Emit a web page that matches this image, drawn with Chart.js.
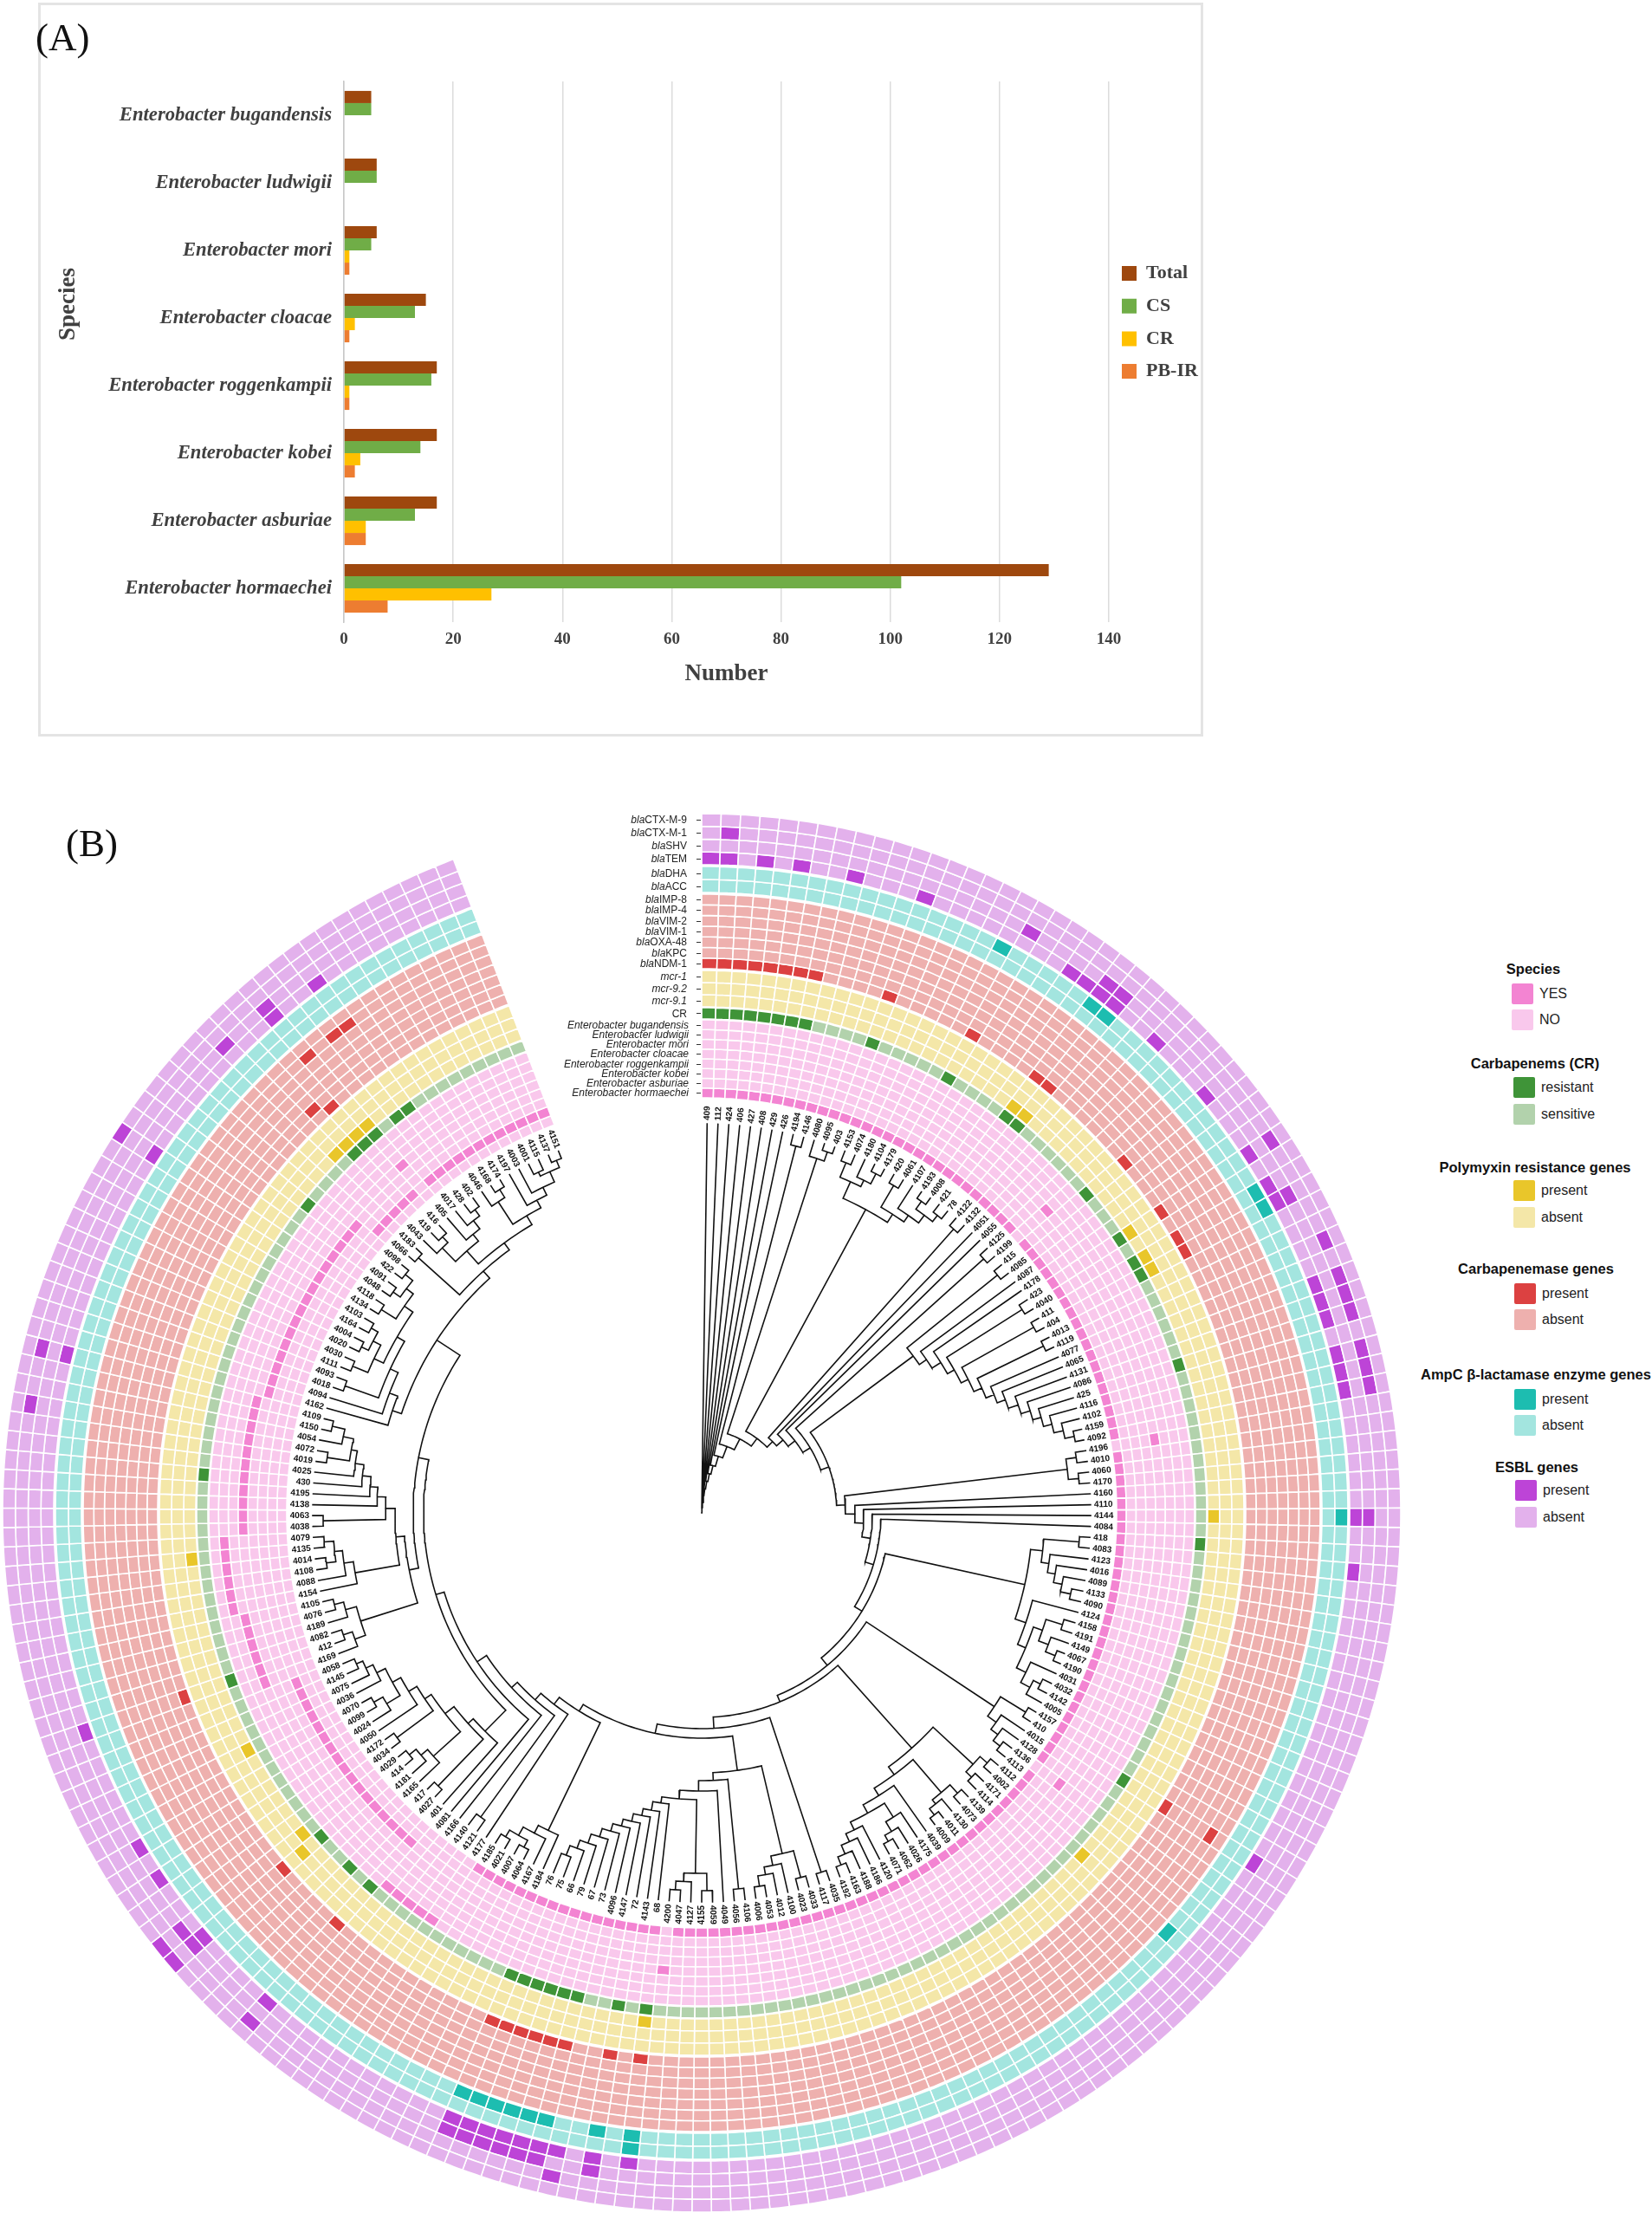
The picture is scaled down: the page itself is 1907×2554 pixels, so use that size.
<!DOCTYPE html>
<html>
<head>
<meta charset="utf-8">
<title>Enterobacter species and resistance genes</title>
<script src="https://cdn.jsdelivr.net/npm/chart.js@4"></script>
<style>
  html, body { margin: 0; padding: 0; background: #fff; }
  #page { position: relative; width: 1907px; height: 2554px; overflow: hidden; background: #fff; font-family: "Liberation Sans", Arial, sans-serif; }
  #page canvas { position: absolute; }
  .frame { position: absolute; left: 44px; top: 3px; width: 1345px; height: 847px; box-sizing: border-box; border: 3px solid #e4e4e4; }
  .panel { position: absolute; font: 45px "Liberation Serif", serif; color: #111; line-height: 50px; }
  .row { position: absolute; right: 1111px; font-size: 12px; line-height: 14px; color: #222; white-space: nowrap; }
  .tick { position: absolute; left: 804px; width: 5px; height: 1px; background: #333; }
  .lg-title { position: absolute; font-size: 16.5px; font-weight: bold; color: #111; white-space: nowrap; transform: translate(-50%, -50%); }
  .lg-box { position: absolute; width: 25px; height: 24px; border-radius: 2px; }
  .lg-text { position: absolute; font-size: 16px; line-height: 24px; color: #222; }
</style>
</head>
<body>
<div id="page">
  <div class="frame"></div>
  <canvas id="barChart" width="1345" height="847" style="left:44px;top:3px"></canvas>
  <canvas id="ringChart" width="1620" height="1620" style="left:0;top:936px"></canvas>
  <canvas id="treeChart" width="1620" height="1620" style="left:0;top:936px"></canvas>
  <div class="panel" style="left:41px;top:18px">(A)</div>
  <div class="panel" style="left:76px;top:948px">(B)</div>
</div>
<script>
// ---- panel A
const speciesNames = ['Enterobacter bugandensis', 'Enterobacter ludwigii', 'Enterobacter mori', 'Enterobacter cloacae',
  'Enterobacter roggenkampii', 'Enterobacter kobei', 'Enterobacter asburiae', 'Enterobacter hormaechei'];
const totalCounts = [5, 6, 6, 15, 17, 17, 17, 129];
const csCounts = [5, 6, 5, 13, 16, 14, 13, 102];
const crCounts = [0, 0, 1, 2, 1, 3, 4, 27];
const pbirCounts = [0, 0, 1, 1, 1, 2, 4, 8];

// ---- panel B: samples in clockwise order from the top
const sampleLabels = ['409','112','424','406','427','408','429','426','4194','4146','4080','4095','403','4153','4074','4180','4104','4179','420','4061','4107','4193','4008','421','78','4122','4132','4051','4055','4125','4199','415','4085','4087','4178','423','4040','411','404','4013','4119','4077','4065','4131','4086','425','4116','4102','4159','4092','4196','4010','4060','4170','4160','4110','4144','4084','418','4083','4123','4016','4089','4133','4090','4124','4158','4191','4149','4067','4190','4031','4032','4142','4005','4157','410','4015','4128','4136','4113','4112','4002','4171','4114','4139','4073','4130','4011','4009','4039','4175','4026','4062','4071','4120','4186','4188','4163','4192','4035','4117','4033','4023','4100','4012','4053','4006','4106','4056','4049','4059','4155','4127','4047','4200','68','4143','72','4147','4096','73','67','79','66','75','76','4184','4167','4064','4007','4021','4185','4177','4121','4140','4166','4081','401','4027','417','4165','4181','414','4029','4034','4172','4050','4024','4099','4070','4036','4075','4145','4058','4169','412','4082','4189','4076','4105','4154','4088','4108','4014','4135','4079','4038','4063','4138','4195','430','4025','4019','4072','4054','4150','4109','4162','4094','4018','4093','4111','4030','4020','4004','4164','4103','4134','4118','4048','4091','422','4098','4066','4183','4043','419','416','405','4017','428','402','4046','4168','4174','4197','4003','4001','4115','4137','4151'];

// sample positions with a filled cell, one list per ring
const ctxM9 = [143, 144, 189];
const ctxM1 = [1, 35, 41, 43, 44, 45, 47, 48, 49, 120, 138, 174, 177];
const shv = [18, 23, 24, 38, 56, 118, 121, 122, 123, 124, 125, 126, 143, 144, 196, 199];
const tem = [0, 1, 3, 5, 8, 12, 21, 22, 23, 24, 27, 31, 35, 37, 38, 43, 44, 45, 47, 48, 49, 56, 59, 76, 116, 118, 120, 121, 122, 123, 124, 125, 126, 138, 143, 147, 149, 156, 177, 189, 199, 202];
const dha = [17, 23, 24, 37, 38, 56, 116];
const acc = [82, 116, 118, 121, 122, 123, 124, 125, 126];
const imp8 = [];
const imp4 = [76, 199, 201, 202];
const vim2 = [];
const vim1 = [];
const oxa48 = [];
const kpc = [197];
const ndm1 = [0, 1, 2, 3, 4, 5, 6, 7, 12, 18, 23, 24, 31, 35, 37, 38, 76, 116, 118, 121, 122, 123, 124, 125, 126, 138, 143, 156, 198];
const mcr1 = [];
const mcr92 = [143];
const mcr91 = [23, 24, 35, 37, 38, 56, 82, 116, 144, 151, 165, 196, 197, 198, 199];
const crResistant = [0, 1, 2, 3, 4, 5, 6, 7, 12, 18, 23, 24, 31, 35, 37, 38, 45, 58, 76, 116, 118, 121, 122, 123, 124, 125, 126, 138, 140, 143, 156, 171, 192, 197, 198, 199, 201, 202];
const bugandensis = [133, 134, 135, 136, 137];
const ludwigii = [161, 162, 163, 164, 165, 166];
const mori = [155, 156, 157, 158, 159, 160];
const cloacae = [30, 50, 115, 167, 168, 169, 170, 171, 172, 173, 174, 175, 176, 177, 199];
const roggenkampii = [79, 178, 179, 180, 181, 182, 183, 184, 185, 186, 187, 188, 189, 190, 191, 192, 193];
const kobei = [138, 139, 140, 141, 142, 143, 144, 145, 146, 147, 148, 149, 150, 151, 152, 153, 154];
const asburiae = [194, 195, 196, 197, 198, 200, 201, 202, 203, 204, 205, 206, 207, 208, 209, 210, 211];
const others = [].concat(bugandensis, ludwigii, mori, cloacae, roggenkampii, kobei, asburiae);
const hormaechei = sampleLabels.map((_, i) => i).filter(i => !others.includes(i));

// dendrogram as newick pieces, the number after a clade is the radius of its node
const cladeChain = '((415,4085):438,(4087,(4178,((423,4040):438,((411,404):439,((4013,4119):439,(4077,(4065,(4131,(4086,(425,(4116,(4102,(4159,4092):439):428):417):407):397):386):374):364):354):344):335):326):314):304';
const cladeTop = '(((4153,4074):437,(4180,(4104,4179):440):427):419,((420,4061):438,(4107,((4193,4008):440,(421,78):438):429):418):409):398';
const cladeA = '(((418,4083):437,(4123,(4016,(4089,(4133,4090):436):424):414):405):396,(4124,(((4158,4191):436,(4149,(4067,4190):440):428):416,(4031,((4032,4142):438,4005):429):417):405):395):382';
const cladeB = '((4157,410):439,(4015,(4128,(4136,4113):437):427):417):405';
const cladeE = '(((4112,4002):438,(4171,4114):436):427,(((4139,4073):438,(4130,(4011,4009):440):431):425,(4039,((4175,(4026,(4062,4071):436):428):415,(4120,(4186,(4188,(4163,4192):437):427):416):406):396):385):375):364';
const cladeComb = '(68,(4143,(72,(4147,(4096,(73,(67,(79,(66,(75,76):425):413):403):392):382):373):365):356):348):338';
const cladeN = `(((4033,4023):436,(4100,(4012,(4053,4006):436):424):415):404,((4106,4056):436,(4049,(((4059,4155):436,(4127,(4047,4200):436):426):416,${cladeComb}):331):321):309):300`;
const cladeT = '(4184,(4167,((4064,4007):437,(4021,4185):437):428):417):407';
const cladeC = '(401,((4027,417):438,((4165,(4181,(414,4029):438):428):418,((4034,4172):437,(4050,((4024,(4099,4070):437):425,(4036,(4075,(4145,4058):435):427):418):407):396):385):376):363):355';
const cladeQ = '(((4169,(412,4082):437):426,(4189,(4076,4105):437):426):413,((4154,(4088,((4108,4014):437,(4135,4079):437):426):417):406,((4038,4063):437,(4138,(4195,(430,(4025,((4019,4072):437,(4054,(4150,4109):438):423):411):404):394):384):375):365):354):344';
const cladeL = '(4162,(4094,((4018,4093):437,(((4111,4030):437,((4020,4004):437,(4164,4103):437):428):418,((4134,4118):438,((4048,4091):438,(422,4098):439):428):418):406):396):386):376';
const cladeU = '((4066,4183):440,(((4043,(419,416):437):428,(405,(4017,(428,402):437):428):416):406,((4046,(4168,4174):440):429,(4197,(4003,((4001,4115):436,(4137,4151):440):431):418):408):398):386):376';
const cladeK = `((4035,4117):437,(${cladeN},(${cladeT},(4177,((4121,4140):434,(4166,(4081,(${cladeC},(${cladeQ},(${cladeL},${cladeU}):365):333):321):311):298):289):279):269):260):249`;
const cladeS = `(${cladeA},(${cladeB},(${cladeE},${cladeK}):236):228):217`;
const treeNewick = `(409,(112,(424,(406,(427,(408,(429,(426,((4194,4146):437,((4080,(4095,403):441):430,(${cladeTop},((4122,4132):438,(4051,(4055,((4125,4199):438,(${cladeChain},(((4196,4010):437,(4060,4170):437):425,(4160,(4110,(4144,(4084,${cladeS}):207):197):187):177):166):156):146):136):126):116):107):96):82):68):56):46):37):28):20):12):6`;

// ring layout, outermost first
const OUTER_R = 807, INNER_R = 479, TIP_R = 449, LABEL_R = 453;
const GAP_CELLS = 13;
const CELL_DEG = 360 / (sampleLabels.length + GAP_CELLS);

const groupColors = {
  esbl: ['#BD44D7', '#E3B1EC'],
  ampc: ['#1DBDB0', '#A3E5DF'],
  carb: ['#DC4141', '#EEB0AE'],
  poly: ['#E9C62A', '#F4E7A8'],
  cr: ['#3F9438', '#B2D2AC'],
  species: ['#F384D2', '#F9C8EC']
};
const ringRows = [
  ['<i>bla</i>CTX-M-9', ctxM9, 'esbl', 14.75], ['<i>bla</i>CTX-M-1', ctxM1, 'esbl', 14.75], ['<i>bla</i>SHV', shv, 'esbl', 14.75], ['<i>bla</i>TEM', tem, 'esbl', 14.75],
  [null, null, null, 2],
  ['<i>bla</i>DHA', dha, 'ampc', 15], ['<i>bla</i>ACC', acc, 'ampc', 15],
  [null, null, null, 2],
  ['<i>bla</i>IMP-8', imp8, 'carb', 12.29], ['<i>bla</i>IMP-4', imp4, 'carb', 12.29], ['<i>bla</i>VIM-2', vim2, 'carb', 12.29], ['<i>bla</i>VIM-1', vim1, 'carb', 12.29], ['<i>bla</i>OXA-48', oxa48, 'carb', 12.29], ['<i>bla</i>KPC', kpc, 'carb', 12.29], ['<i>bla</i>NDM-1', ndm1, 'carb', 12.26],
  [null, null, null, 2],
  ['<i>mcr-1</i>', mcr1, 'poly', 14], ['<i>mcr-9.2</i>', mcr92, 'poly', 14], ['<i>mcr-9.1</i>', mcr91, 'poly', 14],
  [null, null, null, 1],
  ['CR', crResistant, 'cr', 13],
  [null, null, null, 1],
  ['<i>Enterobacter bugandensis</i>', bugandensis, 'species', 11.25], ['<i>Enterobacter ludwigii</i>', ludwigii, 'species', 11.25], ['<i>Enterobacter mori</i>', mori, 'species', 11.25], ['<i>Enterobacter cloacae</i>', cloacae, 'species', 11.25],
  ['<i>Enterobacter roggenkampii</i>', roggenkampii, 'species', 11.25], ['<i>Enterobacter kobei</i>', kobei, 'species', 11.25], ['<i>Enterobacter asburiae</i>', asburiae, 'species', 11.25], ['<i>Enterobacter hormaechei</i>', hormaechei, 'species', 11.25]
];

const legendGroups = [
  ['Species', 1770, 1118, 1745, 'species', ['YES', 'NO'], [1135, 1165]],
  ['Carbapenems (CR)', 1772, 1227, 1747, 'cr', ['resistant', 'sensitive'], [1243, 1274]],
  ['Polymyxin resistance genes', 1772, 1347, 1747, 'poly', ['present', 'absent'], [1362, 1393]],
  ['Carbapenemase genes', 1773, 1464, 1748, 'carb', ['present', 'absent'], [1481, 1511]],
  ['AmpC \u03B2-lactamase enzyme genes', 1773, 1586, 1748, 'ampc', ['present', 'absent'], [1603, 1633]],
  ['ESBL genes', 1774, 1693, 1749, 'esbl', ['present', 'absent'], [1708, 1739]]
];

const serif = '"Liberation Serif", "Times New Roman", serif';
const inkColor = '#404040';

// the legend sits inside the plot, so place it by hand once layout is done
const legendPlacer = {
  id: 'legendPlacer',
  afterLayout(chart) {
    const l = chart.legend;
    l.left = 1235.3; l.top = 285.8; l.right = l.left + l.width; l.bottom = l.top + l.height;
  }
};

// axis title sits above the middle of the axis in the original
const speciesTitle = {
  id: 'speciesTitle',
  afterDraw(chart) {
    const { ctx } = chart;
    ctx.save();
    ctx.translate(35, 348);
    ctx.rotate(-Math.PI / 2);
    ctx.font = 'bold 27px ' + serif;
    ctx.fillStyle = inkColor;
    ctx.textAlign = 'center';
    ctx.textBaseline = 'middle';
    ctx.fillText('Species', 0, 0);
    ctx.restore();
  }
};

new Chart(document.getElementById('barChart'), {
  type: 'bar',
  plugins: [legendPlacer, speciesTitle],
  data: {
    labels: speciesNames,
    datasets: [
      { label: 'Total', data: totalCounts, backgroundColor: '#9E480E' },
      { label: 'CS', data: csCounts, backgroundColor: '#70AD47' },
      { label: 'CR', data: crCounts, backgroundColor: '#FFC000' },
      { label: 'PB-IR', data: pbirCounts, backgroundColor: '#ED7D31' }
    ]
  },
  options: {
    indexAxis: 'y',
    responsive: false,
    animation: false,
    events: [],
    datasets: { bar: { categoryPercentage: 0.72, barPercentage: 1 } },
    layout: { padding: { left: 0, top: 91, right: 109, bottom: 49 } },
    plugins: {
      tooltip: { enabled: false },
      legend: {
        position: 'chartArea',
        align: 'start',
        labels: { boxWidth: 17, boxHeight: 17, padding: 15.7, color: inkColor, font: { family: serif, size: 22, weight: 'bold' } }
      }
    },
    scales: {
      x: {
        min: 0, max: 140,
        ticks: { stepSize: 20, padding: 9, color: inkColor, maxRotation: 0, font: { family: serif, size: 19, weight: 'bold' } },
        grid: { color: '#dcdcdc', lineWidth: 1.5, drawTicks: false },
        border: { display: false },
        title: { display: true, text: 'Number', color: inkColor, padding: { top: 0, bottom: 7 }, font: { family: serif, size: 27, weight: 'bold' } },
        afterFit: s => { s.height = 83; }
      },
      y: {
        ticks: { padding: 14, color: inkColor, font: { family: serif, size: 22.7, weight: 'bold', style: 'italic' } },
        grid: { display: false, drawTicks: false },
        border: { color: '#c8c8c8', width: 1.5 },
        afterFit: s => { s.width = 353; }
      }
    }
  }
});

// ---- circular heatmap: one doughnut dataset per row, blank datasets as gaps
const ringDatasets = ringRows.map(([label, hits, group, thick]) => {
  if (!hits) return { data: [1], weight: thick, backgroundColor: 'rgba(0,0,0,0)', borderWidth: 0 };
  const [on, off] = groupColors[group];
  const cells = sampleLabels.map((_, i) => 1).concat(GAP_CELLS);
  return {
    data: cells,
    weight: thick,
    backgroundColor: cells.map((_, i) => i === sampleLabels.length ? 'rgba(0,0,0,0)' : (hits.includes(i) ? on : off)),
    borderColor: '#fff',
    borderWidth: cells.map((_, i) => i === sampleLabels.length ? 0 : 1.6)
  };
});

new Chart(document.getElementById('ringChart'), {
  type: 'doughnut',
  data: { labels: sampleLabels.concat(''), datasets: ringDatasets },
  options: {
    responsive: false,
    animation: false,
    events: [],
    radius: OUTER_R,
    cutout: (INNER_R / OUTER_R * 100) + '%',
    rotation: 0,
    circumference: 360,
    plugins: { legend: { display: false }, tooltip: { enabled: false } }
  }
});

// ---- dendrogram
function parseTree(s) {
  let p = 0;
  function node() {
    if (s[p] === '(') {
      p++;
      const kids = [node()];
      while (s[p] === ',') { p++; kids.push(node()); }
      p++;
      const m = /^:(\d+)/.exec(s.slice(p));
      p += m[0].length;
      return { kids, r: +m[1], a: (kids[0].a + kids[kids.length - 1].a) / 2 };
    }
    const m = /^[^,()]+/.exec(s.slice(p));
    p += m[0].length;
    return { r: TIP_R, a: (sampleLabels.indexOf(m[0]) + 0.5) * CELL_DEG };
  }
  return node();
}

const polar = (r, deg) => ({ x: r * Math.sin(deg * Math.PI / 180), y: r * Math.cos(deg * Math.PI / 180) });
const breakPoint = { x: NaN, y: NaN };

function treePoints(root) {
  const pts = [polar(0, root.a), polar(root.r, root.a), breakPoint];
  (function walk(n) {
    if (!n.kids) return;
    const a0 = n.kids[0].a, a1 = n.kids[n.kids.length - 1].a;
    for (let a = a0; a < a1; a += 1) pts.push(polar(n.r, a));
    pts.push(polar(n.r, a1), breakPoint);
    n.kids.forEach(k => {
      pts.push(polar(n.r, k.a), polar(k.r, k.a), breakPoint);
      walk(k);
    });
  })(root);
  return pts;
}

const tipLabels = {
  id: 'tipLabels',
  afterDatasetsDraw(chart) {
    const { ctx, scales } = chart;
    ctx.save();
    ctx.font = 'bold 10px "Liberation Sans", Arial, sans-serif';
    ctx.fillStyle = '#111';
    ctx.textBaseline = 'middle';
    sampleLabels.forEach((label, i) => {
      const deg = (i + 0.5) * CELL_DEG;
      const p = polar(LABEL_R, deg);
      const right = deg < 180;
      ctx.save();
      ctx.translate(scales.x.getPixelForValue(p.x), scales.y.getPixelForValue(p.y));
      ctx.rotate((right ? deg - 90 : deg + 90) * Math.PI / 180);
      ctx.textAlign = right ? 'left' : 'right';
      ctx.fillText(label, 0, 0);
      ctx.restore();
    });
    ctx.restore();
  }
};

new Chart(document.getElementById('treeChart'), {
  type: 'scatter',
  plugins: [tipLabels],
  data: {
    datasets: [{
      data: treePoints(parseTree(treeNewick)),
      showLine: true,
      spanGaps: false,
      pointRadius: 0,
      borderColor: '#111',
      borderWidth: 1.6,
      borderCapStyle: 'square',
      clip: false
    }]
  },
  options: {
    responsive: false,
    animation: false,
    events: [],
    layout: { padding: 0 },
    plugins: { legend: { display: false }, tooltip: { enabled: false } },
    scales: {
      x: { display: false, min: -810, max: 810 },
      y: { display: false, min: -810, max: 810 }
    }
  }
});

// ---- row names next to the first column of the rings, and the legend
const page = document.getElementById('page');
function addEl(cls, html, css) {
  const el = document.createElement('div');
  el.className = cls;
  if (html) el.innerHTML = html;
  Object.assign(el.style, css);
  page.appendChild(el);
}
let ringTop = OUTER_R;
ringRows.forEach(([label, hits, group, thick]) => {
  const mid = ringTop - thick / 2;
  ringTop -= thick;
  if (!label) return;
  const y = 1746 - mid;
  addEl('row', label, { top: (y - 7) + 'px', right: (group === 'species' ? 1112 : 1114) + 'px' });
  addEl('tick', '', { top: Math.round(y) + 'px' });
});
legendGroups.forEach(([title, cx, cy, boxX, group, names, tops]) => {
  addEl('lg-title', title, { left: cx + 'px', top: cy + 'px' });
  names.forEach((name, i) => {
    addEl('lg-box', '', { left: boxX + 'px', top: tops[i] + 'px', background: groupColors[group][i] });
    addEl('lg-text', name, { left: (boxX + 32) + 'px', top: tops[i] + 'px' });
  });
});
</script>
</body>
</html>
